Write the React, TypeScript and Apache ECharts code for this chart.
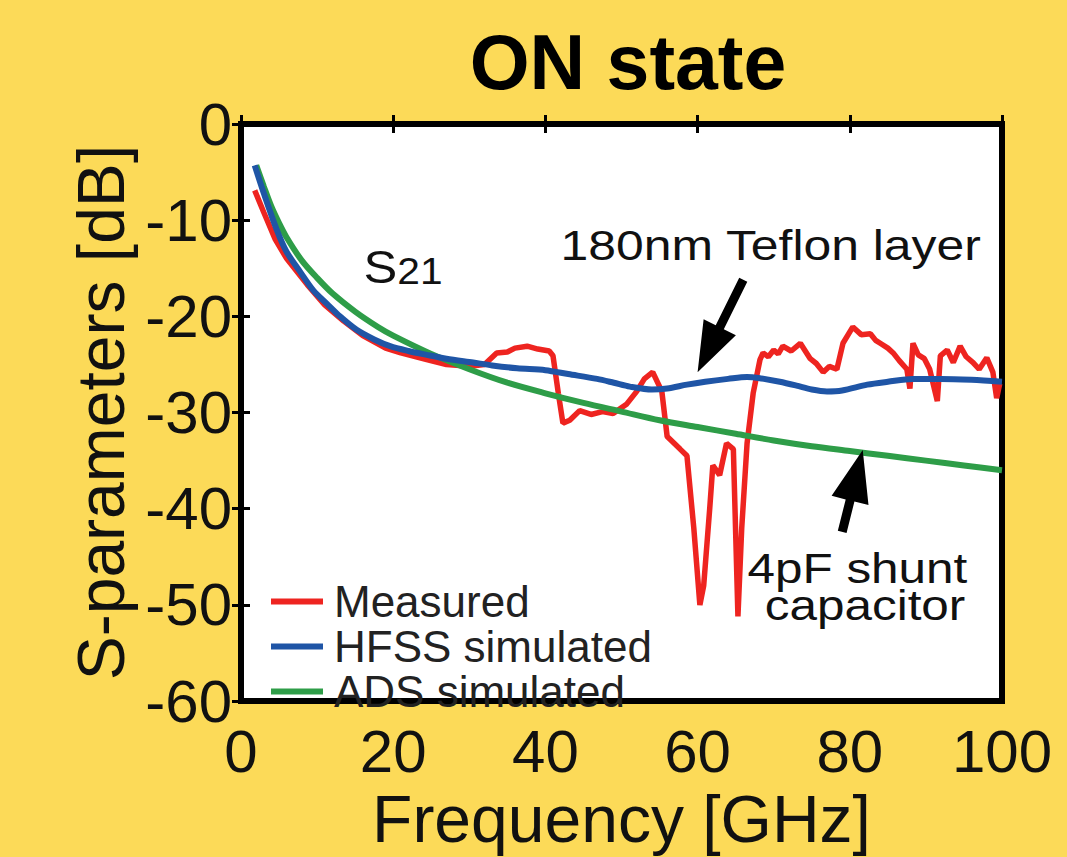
import React, { useEffect, useRef } from "react";
import * as echarts from "echarts";

// ---- data ----
const xTicks = [0, 20, 40, 60, 80, 100];
const yTicks = [-60, -50, -40, -30, -20, -10, 0];

const measuredFreq = [
  1.8, 3, 4.5, 6, 8.7, 11, 13.5, 16, 19, 21, 24.4, 27, 30, 32, 33.6, 35, 36, 37.6, 39, 40.5,
  41, 41.7, 42.3, 43.2, 44.5, 46, 47.5, 48.9, 50.7, 52, 53, 54.1, 55.3, 56, 57.7, 58.6, 59.5,
  60.3, 60.8, 61.6, 62, 62.9, 63.8, 64.7, 65.3, 65.8, 66.5, 67.3, 68.2, 68.6, 69.3, 70, 70.6,
  71.2, 72.3, 73.5, 74.8, 75.6, 76.5, 77.3, 78.3, 79.1, 80.4, 81.5, 82.7, 83.4, 84, 85, 85.7,
  86.5, 87.5, 87.9, 88.3, 89, 89.8, 90.5, 91.5, 91.9, 92.8, 93.6, 94.5, 95.3, 96.2, 97, 98,
  98.8, 99.3, 99.7,
];
const measuredS21 = [
  -6.9, -9.2, -12, -14, -16.7, -18.8, -20.5, -22, -23.3, -23.8, -24.5, -25, -25.2, -25, -23.8,
  -23.7, -23.3, -23.1, -23.4, -23.6, -24.1, -28, -31.1, -30.8, -29.8, -30.2, -29.9, -30.1,
  -29.1, -27.8, -26.5, -25.8, -27.8, -32.5, -33.8, -34.5, -42, -50, -48, -39.9, -35.5, -36.5,
  -33.2, -33.8, -51.2, -42, -33.2, -28, -24.5, -23.8, -24.2, -23.5, -23.9, -23.1, -23.6, -22.8,
  -24.4, -24.9, -25.8, -25.2, -25.5, -22.8, -21.1, -21.9, -21.8, -22.5, -22.8, -23.3, -23.8,
  -24.6, -25.5, -27.5, -22.8, -24, -24.4, -25.5, -28.8, -24.1, -23.5, -24.8, -23.1, -24.2,
  -24.8, -25.5, -24.3, -25.8, -28.5, -27,
];

const hfssFreq = [
  1.8, 3, 4.7, 6, 7.8, 9.5, 11.3, 13, 15.2, 17.5, 19.6, 22, 24.4, 27, 30.5, 33, 36.3, 40, 43,
  46.8, 49, 51.1, 54, 56, 58.6, 61, 64, 66.5, 68, 70.8, 73, 75, 77, 79, 82.3, 85, 88.3, 92, 96,
  100,
];
const hfssS21 = [
  -4.3, -7.2, -11, -13.3, -15.4, -17.3, -18.7, -20, -21.4, -22.4, -23.1, -23.6, -24, -24.4,
  -24.8, -25.1, -25.4, -25.6, -26, -26.5, -26.9, -27.3, -27.6, -27.5, -27.1, -26.8, -26.5,
  -26.3, -26.4, -26.8, -27.2, -27.6, -27.8, -27.7, -27.1, -26.8, -26.5, -26.5, -26.6, -26.8,
];

const adsFreq = [
  2, 3, 4, 5, 6, 8, 10, 12, 15, 18, 20, 25, 30, 35, 40, 45, 50, 55, 60, 65, 70, 75, 80, 85, 90,
  95, 100,
];
const adsS21 = [
  -4.3, -6.5, -8.6, -10.3, -11.8, -14.2, -16.0, -17.6, -19.5, -21.1, -22.0, -23.9, -25.5,
  -26.9, -28.0, -29.0, -29.9, -30.8, -31.5, -32.2, -32.9, -33.5, -34.0, -34.5, -35.0, -35.5,
  -36.0,
];

const seriesNames = ["Measured", "HFSS simulated", "ADS simulated"];
const seriesColors = ["#EE2420", "#1F55A6", "#2E9D48"];

const FONT = "'Liberation Sans', Arial, Helvetica, sans-serif";

const pairs = (xs: number[], ys: number[]) => xs.map((x, i) => [x, ys[i]]);

function arrowPoints(tail: number[], tip: number[], headLen: number, headHalf: number, shaftHalf: number) {
  const dx = tip[0] - tail[0];
  const dy = tip[1] - tail[1];
  const len = Math.hypot(dx, dy);
  const ux = dx / len;
  const uy = dy / len;
  const nx = -uy;
  const ny = ux;
  const bx = tip[0] - ux * headLen;
  const by = tip[1] - uy * headLen;
  return [
    [tail[0] + nx * shaftHalf, tail[1] + ny * shaftHalf],
    [bx + nx * shaftHalf, by + ny * shaftHalf],
    [bx + nx * headHalf, by + ny * headHalf],
    [tip[0], tip[1]],
    [bx - nx * headHalf, by - ny * headHalf],
    [bx - nx * shaftHalf, by - ny * shaftHalf],
    [tail[0] - nx * shaftHalf, tail[1] - ny * shaftHalf],
  ];
}

export default function App() {
  const ref = useRef<HTMLDivElement>(null);

  useEffect(() => {
    if (!ref.current) return;
    const chart = echarts.init(ref.current, undefined, { renderer: "svg" });

    const axisCommon = {
      type: "value" as const,
      axisLine: { show: false },
      splitLine: { show: false },
      axisTick: { show: true, inside: true, length: 9, lineStyle: { color: "#000", width: 3 } },
    };

    chart.setOption({
      animation: false,
      backgroundColor: "#FCDA58",
      title: {
        text: "ON state",
        left: 623,
        top: 18,
        textAlign: "center",
        textStyle: { fontSize: 77, fontWeight: "bold", color: "#000", fontFamily: FONT },
      },
      grid: {
        left: 241,
        width: 761,
        top: 124,
        height: 596,
        show: true,
        backgroundColor: "#FFFFFF",
        borderColor: "#000",
        borderWidth: 6,
      },
      legend: {
        orient: "vertical",
        left: 266,
        top: 574,
        data: seriesNames,
        icon: "rect",
        itemWidth: 52,
        itemHeight: 6,
        itemGap: 0,
        textStyle: { fontSize: 44, lineHeight: 45, color: "#222", fontFamily: FONT, padding: [0, 0, 0, 6] },
      },
      xAxis: [
        {
          ...axisCommon,
          min: 0,
          max: 100,
          interval: 20,
          position: "bottom",
          name: "Frequency [GHz]",
          nameLocation: "middle",
          nameGap: 56,
          nameTextStyle: { fontSize: 66, color: "#111", fontFamily: FONT },
          axisLabel: {
            show: true,
            margin: 20,
            fontSize: 60,
            color: "#111",
            fontFamily: FONT,
            formatter: (v: number) => (xTicks.includes(v) ? String(v) : ""),
          },
        },
        {
          ...axisCommon,
          min: 0,
          max: 100,
          interval: 20,
          position: "top",
          axisLabel: { show: false },
        },
      ],
      yAxis: [
        {
          ...axisCommon,
          min: -60,
          max: 0,
          interval: 10,
          position: "left",
          name: "S-parameters [dB]",
          nameLocation: "middle",
          nameGap: 106,
          nameTextStyle: { fontSize: 66, color: "#111", fontFamily: FONT },
          axisLabel: {
            show: true,
            margin: 9,
            fontSize: 60,
            color: "#111",
            fontFamily: FONT,
            formatter: (v: number) => (yTicks.includes(v) ? String(v) : ""),
          },
        },
        {
          ...axisCommon,
          min: -60,
          max: 0,
          interval: 10,
          position: "right",
          axisLabel: { show: false },
        },
      ],
      series: [
        {
          name: seriesNames[0],
          type: "line",
          data: pairs(measuredFreq, measuredS21),
          showSymbol: false,
          lineStyle: { color: seriesColors[0], width: 5.5 },
          itemStyle: { color: seriesColors[0] },
          z: 2,
        },
        {
          name: seriesNames[2],
          type: "line",
          data: pairs(adsFreq, adsS21),
          smooth: 0.3,
          showSymbol: false,
          lineStyle: { color: seriesColors[2], width: 6 },
          itemStyle: { color: seriesColors[2] },
          z: 3,
        },
        {
          name: seriesNames[1],
          type: "line",
          data: pairs(hfssFreq, hfssS21),
          smooth: 0.3,
          showSymbol: false,
          lineStyle: { color: seriesColors[1], width: 6 },
          itemStyle: { color: seriesColors[1] },
          z: 4,
        },
      ],
    });

    const px = (p: number[]) => chart.convertToPixel({ xAxisIndex: 0, yAxisIndex: 0 }, p) as number[];

    const a1 = arrowPoints(px([66.0, -16.2]), px([60.0, -25.8]), 50, 18, 4.5);
    const a2 = arrowPoints(px([79.0, -42.4]), px([81.7, -33.9]), 52, 19, 4.5);
    const s21Pos = px([16.1, -17.2]);
    const teflonPos = px([69.6, -12.6]);
    const shuntPos = px([81.0, -46.2]);
    const capPos = px([82.0, -50.0]);

    const textStyle = { fill: "#111", fontFamily: FONT, fontSize: 43, align: "center", verticalAlign: "middle" };

    chart.setOption({
      graphic: [
        { type: "polygon", shape: { points: a1 }, style: { fill: "#000" }, z: 50 },
        { type: "polygon", shape: { points: a2 }, style: { fill: "#000" }, z: 50 },
        {
          type: "text",
          x: s21Pos[0],
          y: s21Pos[1],
          scaleX: 1.1,
          z: 50,
          style: {
            text: "{a|S}{b|21}",
            fill: "#111",
            align: "left",
            verticalAlign: "bottom",
            rich: {
              a: { fontSize: 46, fontFamily: FONT, fill: "#111", verticalAlign: "bottom" },
              b: { fontSize: 37, fontFamily: FONT, fill: "#111", verticalAlign: "bottom" },
            },
          },
        },
        { type: "text", x: teflonPos[0], y: teflonPos[1], scaleX: 1.16, z: 50, style: { ...textStyle, text: "180nm Teflon layer" } },
        { type: "text", x: shuntPos[0], y: shuntPos[1], scaleX: 1.15, z: 50, style: { ...textStyle, text: "4pF shunt" } },
        { type: "text", x: capPos[0], y: capPos[1], scaleX: 1.15, z: 50, style: { ...textStyle, text: "capacitor" } },
      ],
    });

    return () => chart.dispose();
  }, []);

  return <div ref={ref} style={{ position: "fixed", left: 0, top: 0, width: 1067, height: 857 }} />;
}
